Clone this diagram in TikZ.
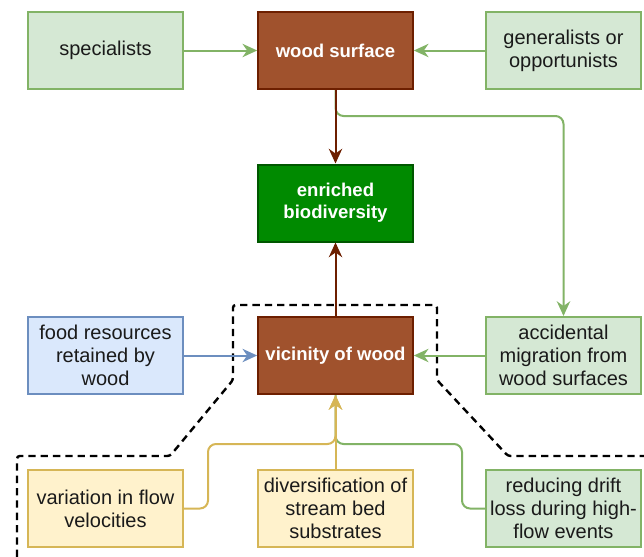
\documentclass[tikz,border=0pt]{standalone}
\usepackage{fontspec}
\setmainfont{Liberation Sans}
\usetikzlibrary{arrows.meta}
\definecolor{gfill}{HTML}{D5E8D4}\definecolor{gline}{HTML}{82B366}
\definecolor{bfill}{HTML}{DAE8FC}\definecolor{bline}{HTML}{6C8EBF}
\definecolor{yfill}{HTML}{FFF2CC}\definecolor{yline}{HTML}{D6B656}
\definecolor{wfill}{HTML}{A0522D}\definecolor{wline}{HTML}{6D1F00}
\definecolor{dfill}{HTML}{008A00}\definecolor{dline}{HTML}{005700}
\definecolor{txt}{HTML}{1A1A1A}
\begin{document}
\begin{tikzpicture}[x=0.75pt,y=-0.75pt,
  box/.style={draw, line width=1.5pt, minimum width=116pt, minimum height=57.75pt,
    align=center, inner sep=2pt, font=\fontsize{15}{17.25}\selectfont, text=txt},
  gbox/.style={box, fill=gfill, draw=gline},
  bbox/.style={box, fill=bfill, draw=bline},
  ybox/.style={box, fill=yfill, draw=yline},
  wbox/.style={box, fill=wfill, draw=wline, text=white, font=\fontsize{13.9}{16.5}\selectfont\bfseries},
  dbox/.style={box, fill=dfill, draw=dline, text=white, font=\fontsize{13.9}{16.5}\selectfont\bfseries},
  conn/.style={line width=1.5pt, -{Stealth[length=11pt,width=10pt,inset=3.5pt]}},
  plain/.style={line width=1.5pt},
  region/.style={line width=1.8pt, dash pattern=on 5.5pt off 3.75pt, rounded corners=2pt}
]
\useasboundingbox (0,0) rectangle (644,557);

\draw[region] (17,557) -- (17,456) -- (170,456) -- (233,380) -- (233,305) -- (437,305) -- (437,380) -- (508,456) -- (644,456);

\node[gbox] (spec) at (105.5,50.5) {specialists};
\node[wbox] (ws) at (335.5,50.5) {wood surface};
\node[gbox] (gen) at (563.5,50.5) {generalists or\\opportunists};
\node[dbox] (eb) at (335.5,203) {enriched\\biodiversity};
\node[bbox] (food) at (105.5,355.5) {food resources\\retained by\\wood};
\node[wbox] (vic) at (335.5,355.5) {vicinity of wood};
\node[gbox] (acc) at (563.5,355.5) {accidental\\migration from\\wood surfaces};
\node[ybox] (var) at (105.5,508.5) {variation in flow\\velocities};
\node[ybox] (div) at (335.5,508.5) {diversification of\\stream bed\\substrates};
\node[gbox] (red) at (563.5,508.5) {reducing drift\\loss during high-\\flow events};

\draw[conn, gline] (spec) -- (ws);
\draw[conn, gline] (gen) -- (ws);
\draw[conn, gline, rounded corners=6pt] (ws.south) -- ++(0,26) -| (acc.north);
\draw[conn, wline] (ws) -- (eb);
\draw[conn, wline] (vic) -- (eb);
\draw[conn, bline] (food) -- (vic);
\draw[conn, gline] (acc) -- (vic);
\draw[plain, gline, rounded corners=6pt] (red.west) -- (462,508.5) |- (335.5,444) -- (vic.south);
\draw[conn, yline, rounded corners=6pt] (var.east) -- (208,508.5) |- (335.5,444) -- (vic.south);
\draw[conn, yline] (div) -- (vic);
\end{tikzpicture}
\end{document}
